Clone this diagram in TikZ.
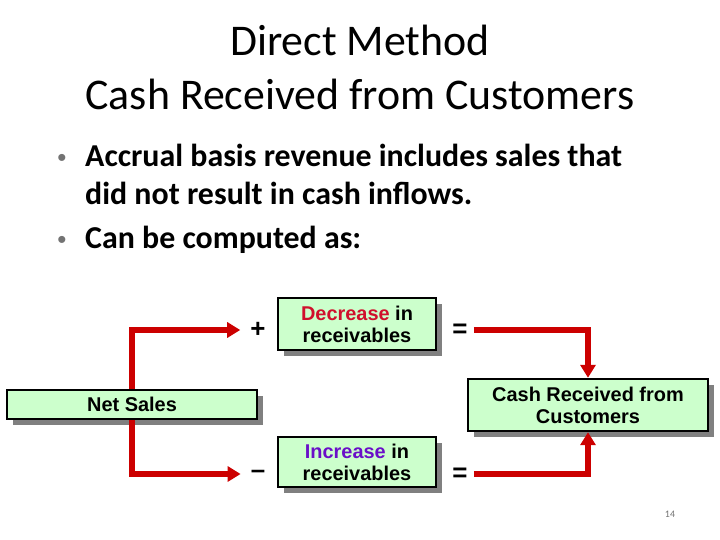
\documentclass[tikz,border=0pt]{standalone}
\usepackage{fontspec}
\setmainfont{Carlito}
\newfontfamily\arialfont{Liberation Sans}
\usetikzlibrary{arrows.meta,positioning,calc,shadows}
\definecolor{Flow}{HTML}{CC0000}
\definecolor{BoxFill}{HTML}{CCFFCC}
\definecolor{DecRed}{HTML}{D0102C}
\definecolor{IncPurple}{HTML}{6A0FC8}

\begin{document}
\begin{tikzpicture}[x=1bp,y=-1bp,
  box/.style={draw=black,line width=2.4bp,fill=BoxFill,inner sep=0pt,align=center,
    font=\arialfont\bfseries\fontsize{20}{22}\selectfont,
    drop shadow={shadow xshift=6bp,shadow yshift=-6bp,fill=black!50,opacity=1}},
  flow/.style={draw=Flow,line width=6bp,-{Triangle[length=13bp,width=15bp]}},
  sign/.style={font=\arialfont\bfseries\fontsize{26}{26}\selectfont,inner sep=1bp},
  bullet/.style={anchor=base west,font=\bfseries\fontsize{32}{34}\selectfont,inner sep=0pt}]
\useasboundingbox (0,0) rectangle (720,540);
\node[anchor=base,font=\fontsize{44}{50}\selectfont,inner sep=0pt] (title1) at (360,56) {Direct Method};
\node[anchor=base,font=\fontsize{44}{50}\selectfont,inner sep=0pt] (title2) at (360,110) {Cash Received from Customers};
\foreach \y/\n in {167/b1,249/b2} {\node[anchor=base,text=black!55,font=\arialfont\fontsize{26}{26}\selectfont,inner sep=0pt] (\n) at (62,\y) {•};}
\node[bullet] (line1) at (85,167) {Accrual basis revenue includes sales that};
\node[bullet] (line2) at (85,205) {did not result in cash inflows.};
\node[bullet] (line3) at (85,249) {Can be computed as:};
% boxes
\node[box,minimum width=250bp,minimum height=29bp] (ns) at (132,404.5) {Net Sales};
\node[box,minimum width=158bp,minimum height=52bp] (dec) at (357,324) {\textcolor{DecRed}{Decrease} in\\receivables};
\node[box,minimum width=158bp,minimum height=50bp] (inc) at (357,462) {\textcolor{IncPurple}{Increase} in\\receivables};
\node[box,minimum width=240bp,minimum height=52bp] (cash) at (588,405) {Cash Received from\\Customers};
% signs
\node[sign] (plus) at (258,330) {+};
\node[sign] (minus) at (258,474) {\textendash};
\node[sign] (eqtop) at (460,331) {=};
\node[sign] (eqbot) at (460,475) {=};
% connectors
\draw[flow] (ns.north) |- ([xshift=-9bp]plus.west);
\draw[flow] (ns.south) |- ([xshift=-9bp]minus.west);
\draw[flow] ([xshift=5bp]eqtop.east |- plus) -| (cash.north);
\draw[flow] ([xshift=5bp]eqbot.east |- minus) -| (cash.south);
\node[text=black!55,font=\fontsize{10}{10}\selectfont,inner sep=0pt] (page) at (670,514) {14};
\end{tikzpicture}
\end{document}
